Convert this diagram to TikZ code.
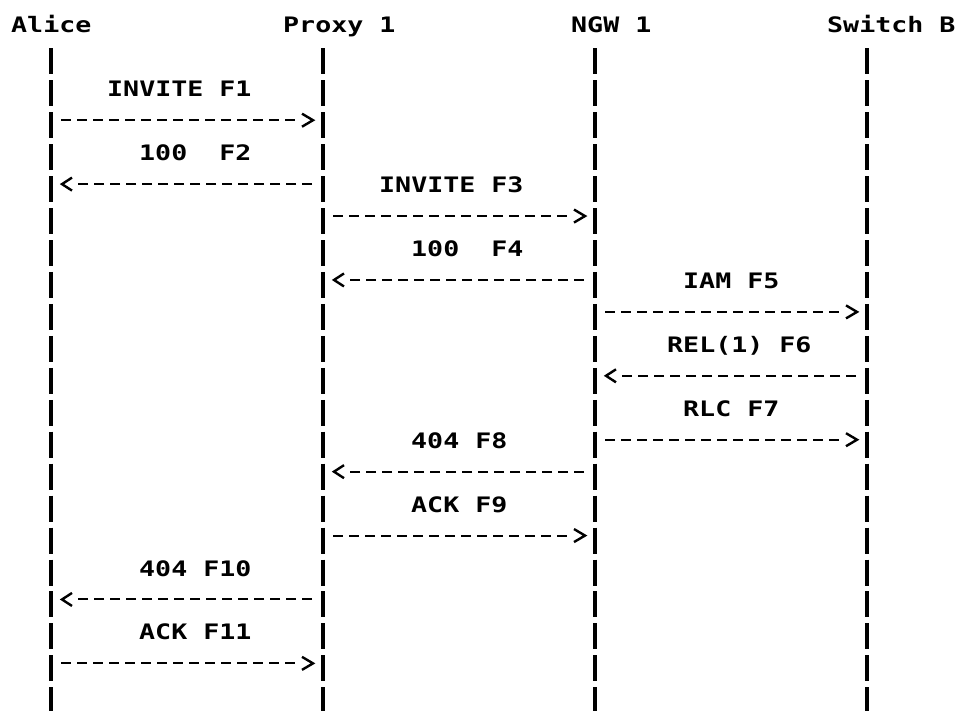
\documentclass[tikz,border=0pt]{standalone}
\usepackage{fontspec}
\newfontfamily\diagfont[FakeStretch=1.25]{DejaVu Sans Mono}
\tikzset{
  lbl/.style={font=\diagfont\bfseries\fontsize{21.3}{24}\selectfont, anchor=base west, inner sep=0pt, text=black},
  lifeline/.style={draw=black, line width=3.2pt, dash pattern=on 26pt off 5.95pt},
  dashln/.style={draw=black, line width=2pt, dash pattern=on 10pt off 6pt},
  chev/.style={draw=black, line width=2.4pt, miter limit=4}
}
\newcommand\msgright[4]{%
  \coordinate (#1a) at (#2 |- 0,#4);
  \coordinate (#1b) at (#3 |- 0,#4);
  \draw[dashln, shorten <=10pt, shorten >=28pt] (#1a) -- (#1b);
  \draw[chev] ([xshift=-21pt,yshift=6.5pt]#1b) -- ([xshift=-10pt]#1b) -- ([xshift=-21pt,yshift=-6.5pt]#1b);
}
\newcommand\msgleft[4]{%
  \coordinate (#1a) at (#2 |- 0,#4);
  \coordinate (#1b) at (#3 |- 0,#4);
  \draw[dashln, shorten <=11pt, shorten >=25pt] (#1a) -- (#1b);
  \draw[chev] ([xshift=21pt,yshift=6.5pt]#1b) -- ([xshift=11pt]#1b) -- ([xshift=21pt,yshift=-6.5pt]#1b);
}
\begin{document}
\begin{tikzpicture}[x=1pt,y=-1pt]
\useasboundingbox[fill=white] (0,0) rectangle (957,710);
% participants
\node[lbl] (alice)  at (11,32.85)  {Alice};
\node[lbl] (proxy)  at (283,32.85) {Proxy 1};
\node[lbl] (ngw)    at (571,32.85) {NGW 1};
\node[lbl] (switch) at (827,32.85) {Switch B};
% lifelines
\coordinate (LA) at (51,48.3);   \coordinate (LAe) at (51,712);
\coordinate (LP) at (323,48.3);  \coordinate (LPe) at (323,712);
\coordinate (LN) at (595,48.3);  \coordinate (LNe) at (595,712);
\coordinate (LS) at (867,48.3);  \coordinate (LSe) at (867,712);
\draw[lifeline] (LA) -- (LAe);
\draw[lifeline] (LP) -- (LPe);
\draw[lifeline] (LN) -- (LNe);
\draw[lifeline] (LS) -- (LSe);
% messages
\node[lbl] (t1) at (107,96.75) {INVITE F1};
\msgright{m1}{LA}{LP}{120.2}
\node[lbl] (t2) at (139,160.65) {100\ \ F2};
\msgleft{m2}{LP}{LA}{184.1}
\node[lbl] (t3) at (379,192.6) {INVITE F3};
\msgright{m3}{LP}{LN}{216.05}
\node[lbl] (t4) at (411,256.5) {100\ \ F4};
\msgleft{m4}{LN}{LP}{279.95}
\node[lbl] (t5) at (683,288.45) {IAM F5};
\msgright{m5}{LN}{LS}{311.9}
\node[lbl] (t6) at (667,352.35) {REL(1) F6};
\msgleft{m6}{LS}{LN}{375.8}
\node[lbl] (t7) at (683,416.25) {RLC F7};
\msgright{m7}{LN}{LS}{439.7}
\node[lbl] (t8) at (411,448.2) {404 F8};
\msgleft{m8}{LN}{LP}{471.65}
\node[lbl] (t9) at (411,512.1) {ACK F9};
\msgright{m9}{LP}{LN}{535.55}
\node[lbl] (t10) at (139,576) {404 F10};
\msgleft{m10}{LP}{LA}{599.45}
\node[lbl] (t11) at (139,639.9) {ACK F11};
\msgright{m11}{LA}{LP}{663.35}
\end{tikzpicture}
\end{document}
